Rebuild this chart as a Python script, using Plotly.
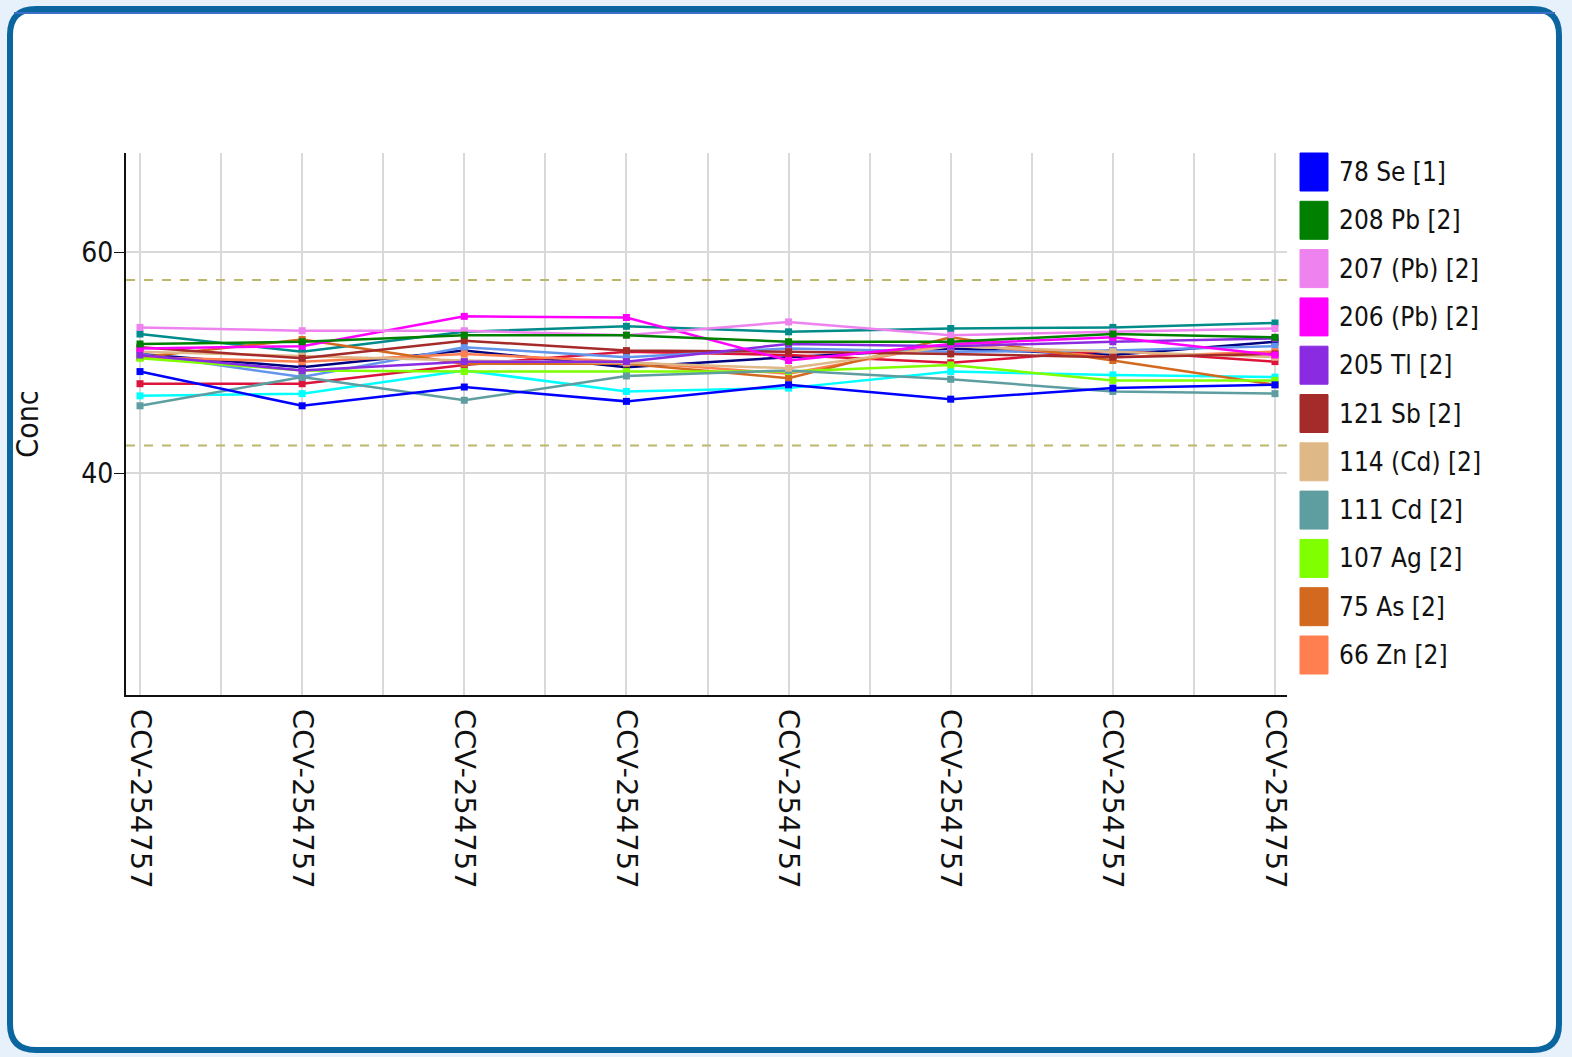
import plotly.graph_objects as go

W, H = 1572, 1057
L, R, T, B = 126, 1287, 153, 695

samples = ["CCV-254757"] * 8
xpos = list(range(8))

# listed series (legend order)
names = ["78 Se [1]", "208 Pb [2]", "207 (Pb) [2]", "206 (Pb) [2]", "205 Tl [2]",
         "121 Sb [2]", "114 (Cd) [2]", "111 Cd [2]", "107 Ag [2]", "75 As [2]", "66 Zn [2]"]
colors = ["#0000ff", "#008000", "#ee82ee", "#ff00ff", "#8a2be2",
          "#a52a2a", "#deb887", "#5f9ea0", "#7fff00", "#d2691e", "#ff7f50"]

se78 = [49.2, 46.1, 47.8, 46.5, 48.0, 46.7, 47.7, 48.0]
pb208 = [51.7, 51.9, 52.5, 52.5, 51.9, 51.9, 52.6, 52.3]
pb207 = [53.2, 52.9, 52.9, 52.5, 53.7, 52.5, 52.8, 53.1]
pb206 = [51.3, 51.5, 54.2, 54.1, 50.2, 51.7, 52.3, 50.7]
tl205 = [50.7, 49.3, 50.1, 50.1, 51.7, 51.5, 51.9, 52.2]
sb121 = [51.4, 50.4, 52.0, 51.1, 51.0, 50.8, 50.5, 50.8]
cd114 = [51.0, 50.6, 50.2, 50.0, 49.5, 51.5, 51.0, 50.5]
cd111 = [46.1, 48.7, 46.6, 48.8, 49.3, 48.5, 47.4, 47.2]
ag107 = [50.4, 49.3, 49.2, 49.2, 49.2, 49.8, 48.4, 48.4]
as75 = [50.5, 52.1, 49.9, 49.9, 48.6, 52.3, 50.2, 48.0]
zn66 = [50.5, 50.1, 50.8, 50.1, 49.0, 51.7, 50.5, 51.0]
listed = [se78, pb208, pb207, pb206, tl205, sb121, cd114, cd111, ag107, as75, zn66]

# further series drawn in the chart but not in the visible legend
extra_colors = ["#00ffff", "#000080", "#dc143c", "#6495ed", "#008b8b"]
cyan_s = [47.0, 47.2, 49.3, 47.4, 47.7, 49.2, 48.9, 48.7]
navy_s = [50.8, 49.6, 51.1, 49.6, 50.5, 51.3, 50.7, 51.9]
crimson_s = [48.1, 48.1, 49.8, 51.0, 50.7, 50.0, 51.1, 50.1]
cornflower_s = [50.8, 48.7, 51.4, 50.5, 51.3, 51.0, 51.1, 51.5]
teal_s = [52.6, 51.0, 52.8, 53.3, 52.8, 53.1, 53.2, 53.6]
extras = [cyan_s, navy_s, crimson_s, cornflower_s, teal_s]

upper_limit, lower_limit = 57.5, 42.5
yticks = [40, 60]

NARROW = "DejaVu Sans Condensed, Liberation Sans, Arial"

fig = go.Figure()

def add_series(vals, col, name):
    fig.add_trace(go.Scatter(
        x=xpos, y=vals, mode="lines+markers", name=name,
        line=dict(color=col, width=2.5),
        marker=dict(color=col, size=7, symbol="square"),
        showlegend=False))

for v, c in zip(extras, extra_colors):
    add_series(v, c, "")
for v, c, n in reversed(list(zip(listed, colors, names))):
    add_series(v, c, n)

for lim in (upper_limit, lower_limit):
    fig.add_shape(type="line", xref="paper", yref="y", x0=0, x1=1, y0=lim, y1=lim,
                  line=dict(color="#bdb76b", width=2, dash="dash"), layer="above")

pw, ph = R - L, B - T
def px_x(px): return (px - L) / pw
def px_y(py): return (B - py) / ph

# outer frame
x0, x1, y0, y1 = px_x(10), px_x(1559), px_y(9), px_y(1050)
rx, ry = 26 / pw, 26 / ph
path = (f"M {x0+rx},{y0} L {x1-rx},{y0} Q {x1},{y0} {x1},{y0-ry} "
        f"L {x1},{y1+ry} Q {x1},{y1} {x1-rx},{y1} L {x0+rx},{y1} Q {x0},{y1} {x0},{y1+ry} "
        f"L {x0},{y0-ry} Q {x0},{y0} {x0+rx},{y0} Z")
fig.add_shape(type="path", xref="paper", yref="paper", path=path,
              fillcolor="white", line=dict(color="#0b66a0", width=6), layer="below")
fig.add_shape(type="line", xref="paper", yref="paper",
              x0=px_x(14), x1=px_x(1555), y0=px_y(13), y1=px_y(13),
              line=dict(color="#3a70c8", width=2), layer="below")

# custom legend
for i, (n, c) in enumerate(zip(names, colors)):
    cy = 172 + i * 48.3
    fig.add_shape(type="rect", xref="paper", yref="paper",
                  x0=px_x(1300), x1=px_x(1328), y0=px_y(cy - 19), y1=px_y(cy + 19),
                  fillcolor=c, line=dict(color=c, width=1))
    fig.add_annotation(xref="paper", yref="paper", x=px_x(1337), y=px_y(cy),
                       xanchor="left", yanchor="middle", text=n, showarrow=False,
                       font=dict(size=26, color="#111111", family=NARROW))

fig.update_layout(
    width=W, height=H,
    margin=dict(l=L, r=W - R, t=T, b=H - B, pad=0),
    paper_bgcolor="#e6f1fb", plot_bgcolor="white",
    font=dict(family=NARROW, color="#111111"),
    showlegend=False,
)
fig.update_xaxes(
    range=[-14 / 162.14, 7 + 12 / 162.14],
    tickvals=xpos, ticktext=samples, tickangle=90,
    tickfont=dict(size=29, family="DejaVu Sans, Arial"),
    ticklabelstandoff=6,
    showgrid=True, gridcolor="#d9d9d9", gridwidth=2,
    minor=dict(dtick=0.5, tick0=0, showgrid=True, gridcolor="#d9d9d9", gridwidth=2),
    showline=True, linecolor="#111111", linewidth=2, ticks="", zeroline=False,
)
fig.update_yaxes(
    range=[19.9, 69.0], tickvals=yticks,
    tickfont=dict(size=28, family=NARROW),
    ticklabelstandoff=-5,
    showgrid=True, gridcolor="#d9d9d9", gridwidth=2,
    showline=True, linecolor="#111111", linewidth=2,
    ticks="outside", ticklen=10, tickcolor="#111111", zeroline=False,
    title=dict(text="Conc", font=dict(size=30, family=NARROW), standoff=34),
)

fig.write_html("out.html", post_script="document.body.style.margin='0';",
               config={"displayModeBar": False})
